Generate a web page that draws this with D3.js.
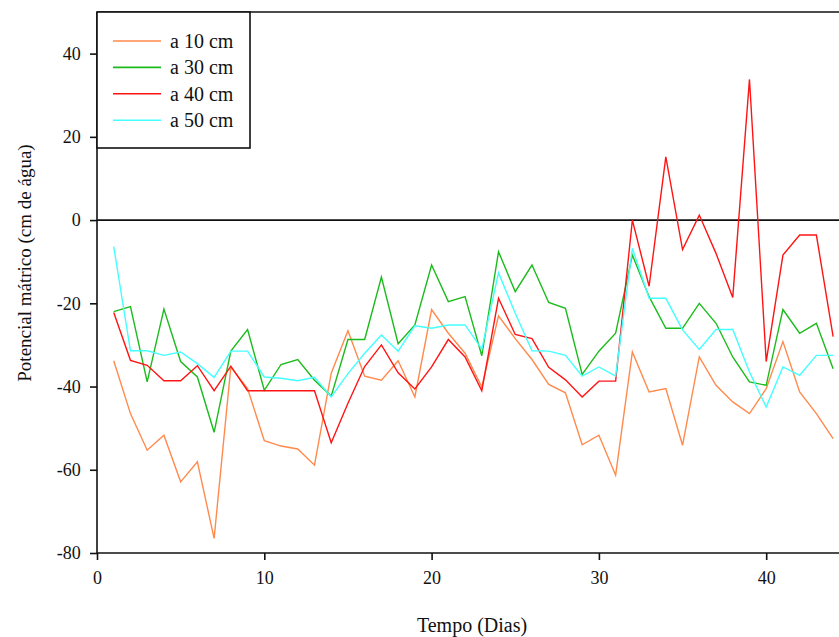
<!DOCTYPE html>
<html>
<head>
<meta charset="utf-8">
<script src="https://d3js.org/d3.v7.min.js"></script>
<style>
    body { margin: 0; background: #fff; }
    #chart-area { width: 839px; height: 637px; }
</style>
</head>
<body>
<div id="chart-area"></div>
<script>

// days of measurement
const days = d3.range(1, 45);

// potencial matrico (cm de agua) per depth
const a10cm = [-33.8, -46.5, -55.3, -51.7, -62.9, -58.1, -76.5, -35.3, -40.5, -53,
    -54.3, -55, -58.9, -36.8, -26.6, -37.5, -38.5, -33.8, -42.5, -21.5,
    -27.2, -32, -40.1, -23, -28.5, -33.5, -39.5, -41.5, -54, -51.7,
    -61.3, -31.7, -41.3, -40.5, -54.1, -32.9, -39.7, -43.7, -46.5, -40.5,
    -29.2, -41.3, -46.5, -52.5];
const a30cm = [-22, -20.8, -38.9, -21.4, -34, -37.7, -51, -31.5, -26.3, -40.9,
    -34.7, -33.5, -38.5, -42.3, -28.7, -28.7, -13.7, -29.7, -25.2, -10.8,
    -19.6, -18.4, -32.6, -7.6, -17.2, -10.8, -19.8, -21.2, -37.1, -31.5,
    -27.2, -8.4, -18.4, -26, -26, -20, -24.8, -32.9, -38.9, -39.7,
    -21.5, -27.2, -24.8, -35.7];
const a40cm = [-22.2, -33.7, -34.9, -38.6, -38.6, -35, -41, -35.1, -41, -41,
    -41, -41, -41, -53.5, -44, -35.2, -30, -36.7, -40.6, -35.3,
    -28.7, -32.9, -41, -18.8, -27.5, -28.5, -35.4, -38.4, -42.5, -38.7,
    -38.7, 0, -15.9, 15.2, -7.1, 1.2, -8, -18.6, 33.8, -34,
    -8.4, -3.6, -3.6, -28];
const a50cm = [-6.4, -31.4, -31.4, -32.5, -31.7, -34.5, -37.8, -31.5, -31.5, -37.7,
    -38, -38.6, -37.8, -42.5, -36.9, -32, -27.6, -31.5, -25.4, -26,
    -25.2, -25.2, -31, -12.7, -22.4, -31.4, -31.5, -32.5, -37.5, -35.3,
    -37.5, -6.8, -18.8, -18.8, -26.4, -31.1, -26.3, -26.3, -36.5, -44.9,
    -35.3, -37.3, -32.5, -32.5];

const seriesNames = ["a 10 cm", "a 30 cm", "a 40 cm", "a 50 cm"];
const seriesColors = ["#ff8a4c", "#1cbb1c", "#ff1414", "#44ffff"];

const xTicks = [0, 10, 20, 30, 40];
const yTicks = [-80, -60, -40, -20, 0, 20, 40];

const FONT = "Liberation Serif";


class PotencialChart {

    constructor(_parentElement) {
        this.parentElement = _parentElement;
        this.series = [a10cm, a30cm, a40cm, a50cm].map((vals, i) => ({
            name: seriesNames[i],
            color: seriesColors[i],
            values: vals.map((v, j) => ({day: days[j], value: v}))
        }));

        this.initVis();
    }

    initVis() {
        let vis = this;

        vis.width = 839;
        vis.height = 637;
        vis.margin = {top: 12, left: 97, bottom: 84};

        vis.svg = d3.select("#" + vis.parentElement).append("svg")
            .attr("width", vis.width)
            .attr("height", vis.height)
            .attr("font-family", FONT);

        // the right side of the original plot is cut off, so the range runs past the edge
        vis.x = d3.scaleLinear()
            .domain([0, 45])
            .range([vis.margin.left, vis.margin.left + 45 * 16.73]);

        vis.y = d3.scaleLinear()
            .domain([-80, 50])
            .range([vis.height - vis.margin.bottom, vis.margin.top]);

        // axes (plain hyphen for negatives, like the original)
        vis.xAxis = d3.axisBottom(vis.x).tickValues(xTicks).tickFormat(d => String(d))
            .tickSize(7).tickSizeOuter(0);
        vis.yAxis = d3.axisLeft(vis.y).tickValues(yTicks).tickFormat(d => String(d))
            .tickSize(7).tickSizeOuter(0);

        vis.svg.append("g")
            .attr("class", "x-axis")
            .attr("transform", `translate(0, ${vis.y(-80)})`)
            .call(vis.xAxis)
            .attr("font-family", FONT);

        vis.svg.append("g")
            .attr("class", "y-axis")
            .attr("transform", `translate(${vis.margin.left}, 0)`)
            .call(vis.yAxis)
            .attr("font-family", FONT);

        vis.svg.selectAll(".domain, .tick line")
            .attr("stroke", "#111")
            .attr("stroke-width", 1.6);

        vis.svg.selectAll(".x-axis .domain")
            .attr("d", `M${vis.margin.left},0H${vis.width}`);

        vis.svg.selectAll(".y-axis .domain")
            .attr("d", `M0,${vis.y(-80)}V${vis.margin.top}`);

        vis.svg.selectAll(".tick text")
            .attr("font-family", FONT)
            .attr("font-size", 18)
            .attr("fill", "#111");

        vis.svg.selectAll(".x-axis .tick text").attr("dy", "1.15em");
        vis.svg.selectAll(".y-axis .tick text").attr("dx", "-0.35em");

        // top frame
        vis.svg.append("line")
            .attr("x1", vis.margin.left).attr("x2", vis.width)
            .attr("y1", vis.margin.top).attr("y2", vis.margin.top)
            .attr("stroke", "#111").attr("stroke-width", 1.6);

        // zero line
        vis.svg.append("line")
            .attr("x1", vis.margin.left).attr("x2", vis.width)
            .attr("y1", vis.y(0)).attr("y2", vis.y(0))
            .attr("stroke", "#111").attr("stroke-width", 1.6);

        // axis titles
        vis.svg.append("text")
            .attr("x", 472)
            .attr("y", 632)
            .attr("text-anchor", "middle")
            .attr("font-family", FONT)
            .attr("font-size", 20)
            .attr("fill", "#111")
            .text("Tempo (Dias)");

        vis.svg.append("text")
            .attr("transform", "translate(31, 263) rotate(-90)")
            .attr("text-anchor", "middle")
            .attr("font-family", FONT)
            .attr("font-size", 19)
            .attr("fill", "#111")
            .text("Potencial mátrico (cm de água)");

        vis.line = d3.line()
            .x(d => vis.x(d.day))
            .y(d => vis.y(d.value));

        vis.updateVis();
    }

    updateVis() {
        let vis = this;

        vis.svg.selectAll(".series")
            .data(vis.series)
            .enter().append("path")
            .attr("class", "series")
            .attr("fill", "none")
            .attr("stroke", d => d.color)
            .attr("stroke-width", 1.4)
            .attr("d", d => vis.line(d.values));

        // legend
        let legend = vis.svg.append("g").attr("class", "legend");

        legend.append("rect")
            .attr("x", vis.margin.left)
            .attr("y", vis.margin.top)
            .attr("width", 153)
            .attr("height", 136)
            .attr("fill", "#fff")
            .attr("stroke", "#111")
            .attr("stroke-width", 1.6);

        let items = legend.selectAll(".legend-item")
            .data(vis.series)
            .enter().append("g")
            .attr("class", "legend-item")
            .attr("transform", (d, i) => `translate(0, ${41 + i * 26.4})`);

        items.append("line")
            .attr("x1", 113).attr("x2", 161)
            .attr("stroke", d => d.color)
            .attr("stroke-width", 1.6);

        items.append("text")
            .attr("x", 170)
            .attr("dy", "0.35em")
            .attr("font-family", FONT)
            .attr("font-size", 20)
            .attr("fill", "#111")
            .text(d => d.name);
    }
}

new PotencialChart("chart-area");

</script>
</body>
</html>
